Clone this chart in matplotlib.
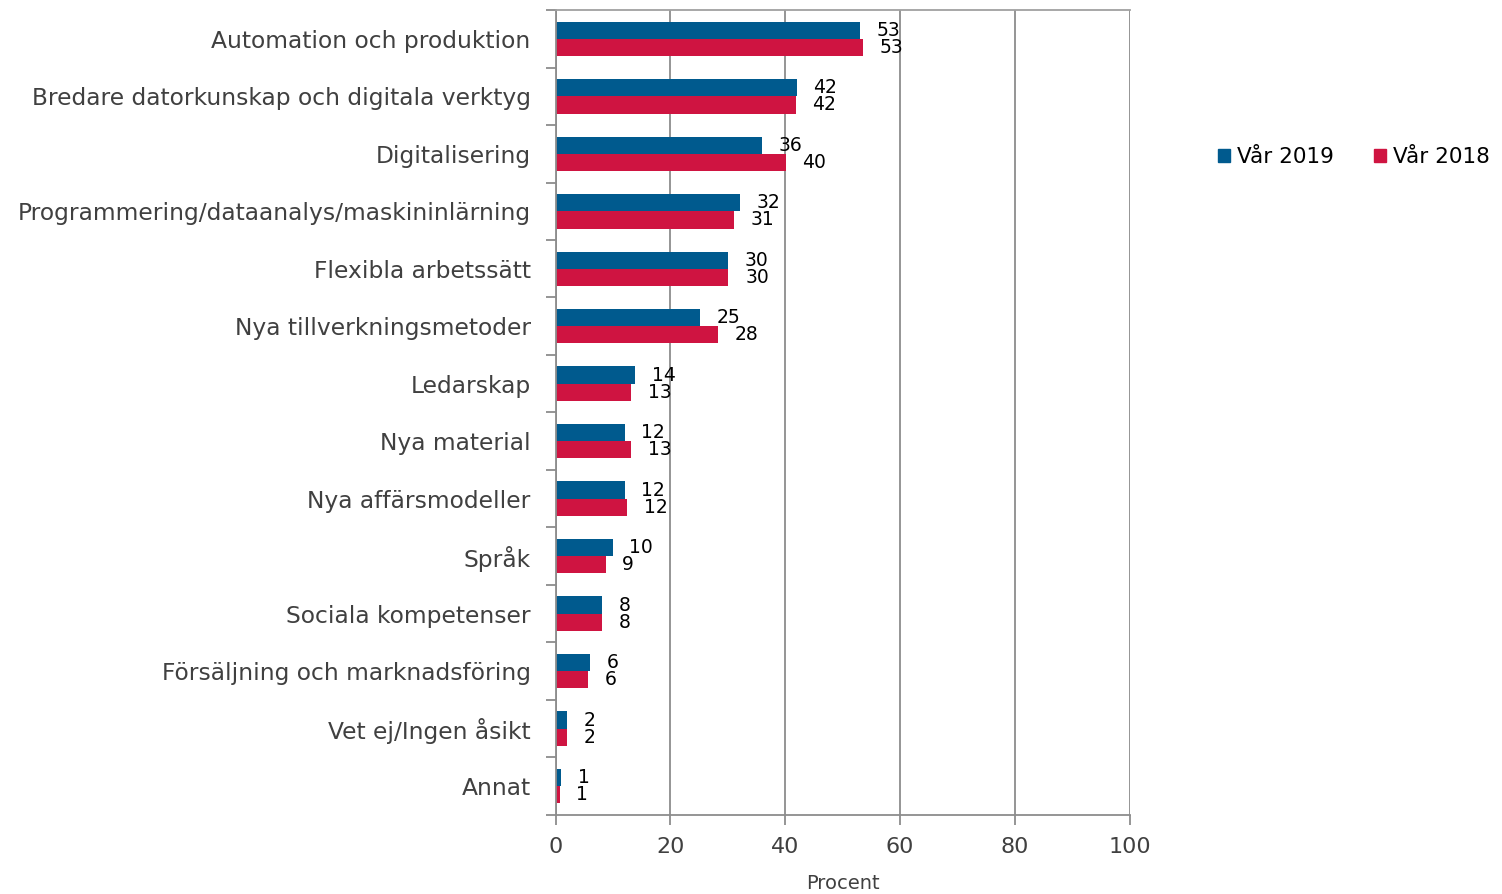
import matplotlib.pyplot as plt
import matplotlib.patches as patches
import numpy as np

# Data
categories = [
    "Automation och produktion",
    "Bredare datorkunskap och digitala verktyg",
    "Digitalisering",
    "Programmering/dataanalys/maskininlärning",
    "Flexibla arbetssätt",
    "Nya tillverkningsmetoder",
    "Ledarskap",
    "Nya material",
    "Nya affärsmodeller",
    "Språk",
    "Sociala kompetenser",
    "Försäljning och marknadsföring",
    "Vet ej/Ingen åsikt",
    "Annat",
]
var_2019 = [53.0, 42.0, 35.9, 32.1, 30.0, 25.1, 13.9, 12.0, 12.0, 9.9, 8.0, 5.9, 1.9, 0.9]
var_2018 = [53.5, 41.8, 40.1, 31.0, 30.1, 28.2, 13.2, 13.1, 12.5, 8.7, 8.0, 5.6, 1.9, 0.7]
labels_2019 = [53, 42, 36, 32, 30, 25, 14, 12, 12, 10, 8, 6, 2, 1]
labels_2018 = [53, 42, 40, 31, 30, 28, 13, 13, 12, 9, 8, 6, 2, 1]
x_ticks = [0, 20, 40, 60, 80, 100]

c_2019 = '#005a8e'
c_2018 = '#cf1441'
c_grid = '#8c8c8c'
c_text = '#404040'

plt.rcParams['font.family'] = ['DejaVu Sans']

fig = plt.figure(figsize=(15.02, 8.94), dpi=100)
ax = fig.add_axes([0.370, 0.0884, 0.382, 0.9004])

y = np.arange(len(categories))
h = 0.3
b19 = ax.barh(y - h / 2, var_2019, height=h, color=c_2019, label='Vår 2019')
b18 = ax.barh(y + h / 2, var_2018, height=h, color=c_2018, label='Vår 2018')

ax.bar_label(b19, labels=[str(v) for v in labels_2019], padding=12, fontsize=13.5, color='black')
ax.bar_label(b18, labels=[str(v) for v in labels_2018], padding=12, fontsize=13.5, color='black')

ax.set_ylim(len(categories) - 0.5, -0.5)
ax.set_xlim(0, 100)
ax.set_yticks(y)
ax.set_yticklabels(categories, fontsize=16.8, color=c_text)
ax.set_yticks(np.arange(len(categories) + 1) - 0.5, minor=True)
ax.tick_params(axis='y', which='major', length=0, pad=18)
ax.tick_params(axis='y', which='minor', length=7, width=1.3, color=c_grid, direction='out')

ax.set_xticks(x_ticks)
ax.set_xticklabels([str(t) for t in x_ticks], fontsize=16, color=c_text)
ax.tick_params(axis='x', length=7, width=1.3, color=c_grid, pad=9)
ax.set_xlabel("Procent", fontsize=14, color=c_text, labelpad=12)

ax.grid(axis='x', color=c_grid, linewidth=1.3)
ax.set_axisbelow(True)
for side in ['left', 'bottom', 'top']:
    ax.spines[side].set_color(c_grid)
    ax.spines[side].set_linewidth(1.3)
ax.spines['right'].set_visible(False)
ax.spines['top'].set_color('#a0a0a0')

handles = [patches.Patch(color=c_2019, label='Vår 2019'),
           patches.Patch(color=c_2018, label='Vår 2018')]
fig.legend(handles=handles, loc='center left', bbox_to_anchor=(0.804, 0.824), ncol=2,
           frameon=False, fontsize=15.5, handlelength=0.55, handleheight=0.55,
           handletextpad=0.3, columnspacing=1.9, borderpad=0)

fig.savefig('out.png', dpi=100)
